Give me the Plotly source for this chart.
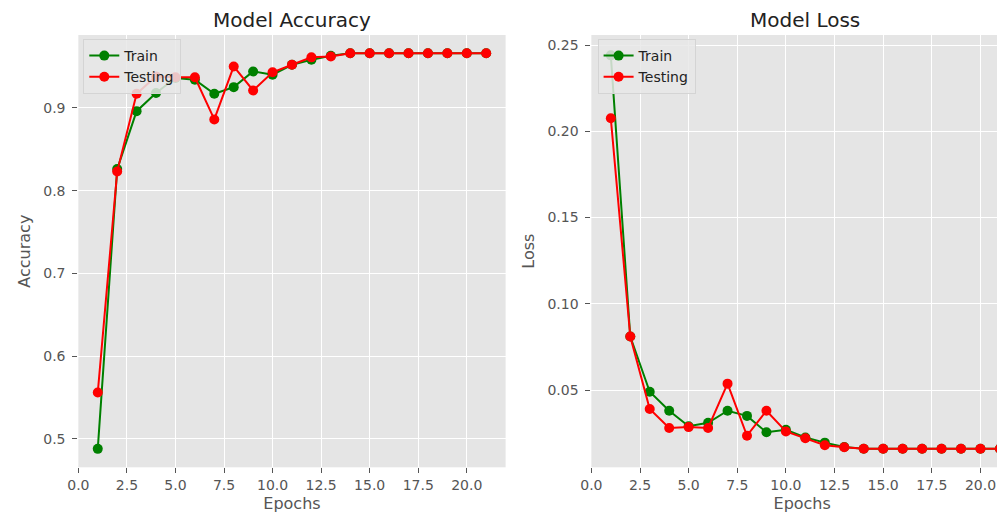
import plotly.graph_objects as go

epochs = list(range(1, 22))

train_acc = [0.488, 0.826, 0.896, 0.918, 0.936, 0.934, 0.917, 0.925, 0.944, 0.940,
             0.952, 0.958, 0.963, 0.966, 0.966, 0.966, 0.966, 0.966, 0.966, 0.966, 0.966]
test_acc = [0.556, 0.823, 0.917, 0.938, 0.937, 0.937, 0.886, 0.950, 0.921, 0.943,
            0.952, 0.961, 0.962, 0.966, 0.966, 0.966, 0.966, 0.966, 0.966, 0.966, 0.966]

train_loss = [0.244, 0.081, 0.049, 0.038, 0.029, 0.031, 0.038, 0.035, 0.0255, 0.027,
              0.0225, 0.0195, 0.017, 0.016, 0.016, 0.016, 0.016, 0.016, 0.016, 0.016, 0.016]
test_loss = [0.2075, 0.081, 0.039, 0.028, 0.0285, 0.028, 0.0537, 0.0235, 0.038, 0.026,
             0.022, 0.018, 0.0168, 0.016, 0.016, 0.016, 0.016, 0.016, 0.016, 0.016, 0.016]

x_ticks = [0, 2.5, 5, 7.5, 10, 12.5, 15, 17.5, 20]
acc_ticks = [0.5, 0.6, 0.7, 0.8, 0.9]
loss_ticks = [0.05, 0.10, 0.15, 0.20, 0.25]

GREEN = "#008000"
RED = "#FF0000"
FONT = "DejaVu Sans"
TICKCOL = "#555555"

fig = go.Figure()

def add(x, y, name, color, xa, ya, legend):
    fig.add_trace(go.Scatter(
        x=x, y=y, name=name, mode="lines+markers",
        line=dict(color=color, width=2),
        marker=dict(color=color, size=10),
        xaxis=xa, yaxis=ya, legend=legend, cliponaxis=True))

add(epochs, train_acc, "Train", GREEN, "x", "y", "legend")
add(epochs, test_acc, "Testing", RED, "x", "y", "legend")
add(epochs, train_loss, "Train", GREEN, "x2", "y2", "legend2")
add(epochs, test_loss, "Testing", RED, "x2", "y2", "legend2")

# the page shows the figure offset by the browser's 8px body margin
W, H = 1005, 512
OFF = 8
L1, R1 = 68 - OFF, 500 - OFF
L2 = 586.7 - OFF
R2 = W
TOP, BOT = 35 - OFF, 467.3 - OFF
PX_PER_EPOCH = 19.67

axis_common = dict(
    showgrid=True, gridcolor="white", gridwidth=1.2, zeroline=False,
    showline=False, ticks="outside", ticklen=5, tickwidth=1, tickcolor=TICKCOL,
    tickfont=dict(family=FONT, size=14, color=TICKCOL),
)

legend_common = dict(
    bgcolor="rgba(232,232,232,0.85)", bordercolor="#d4d4d4", borderwidth=1,
    font=dict(family=FONT, size=14, color="#222222"),
    xanchor="left", yanchor="top", tracegroupgap=0, itemwidth=30,
)

title_font = dict(family=FONT, size=16, color=TICKCOL)

fig.update_layout(
    width=W, height=H,
    margin=dict(l=0, r=0, t=0, b=0),
    paper_bgcolor="white", plot_bgcolor="#E5E5E5",
    font=dict(family=FONT),
    xaxis=dict(domain=[L1 / W, R1 / W], range=[0, 22], tickvals=x_ticks, tickformat=".1f",
               anchor="y", title=dict(text="Epochs", font=title_font, standoff=5),
               **axis_common),
    yaxis=dict(domain=[1 - BOT / H, 1 - TOP / H], range=[0.4657, 0.988], tickvals=acc_ticks,
               tickformat=".1f", anchor="x", ticklabelstandoff=4,
               title=dict(text="Accuracy", font=title_font, standoff=8),
               **axis_common),
    xaxis2=dict(domain=[L2 / W, R2 / W], range=[0, (R2 - L2) / PX_PER_EPOCH], tickvals=x_ticks,
                tickformat=".1f", anchor="y2",
                title=dict(text="Epochs", font=title_font, standoff=5),
                **axis_common),
    yaxis2=dict(domain=[1 - BOT / H, 1 - TOP / H], range=[0.0052, 0.2558], tickvals=loss_ticks,
                tickformat=".2f", anchor="x2", ticklabelstandoff=4,
                title=dict(text="Loss", font=title_font, standoff=8),
                **axis_common),
    legend=dict(x=(73 - OFF) / W, y=1 - (39 - OFF) / H, **legend_common),
    legend2=dict(x=(593 - OFF) / W, y=1 - (39 - OFF) / H, **legend_common),
    showlegend=True,
    annotations=[
        dict(text="Model Accuracy", x=(L1 + R1) / 2 / W, y=1 - (20 - OFF) / H,
             xref="paper", yref="paper", showarrow=False, xanchor="center", yanchor="middle",
             font=dict(family=FONT, size=20, color="#222222")),
        dict(text="Model Loss", x=(803 - OFF) / W, y=1 - (20 - OFF) / H,
             xref="paper", yref="paper", showarrow=False, xanchor="center", yanchor="middle",
             font=dict(family=FONT, size=20, color="#222222")),
    ],
)

fig.write_html("out.html")
